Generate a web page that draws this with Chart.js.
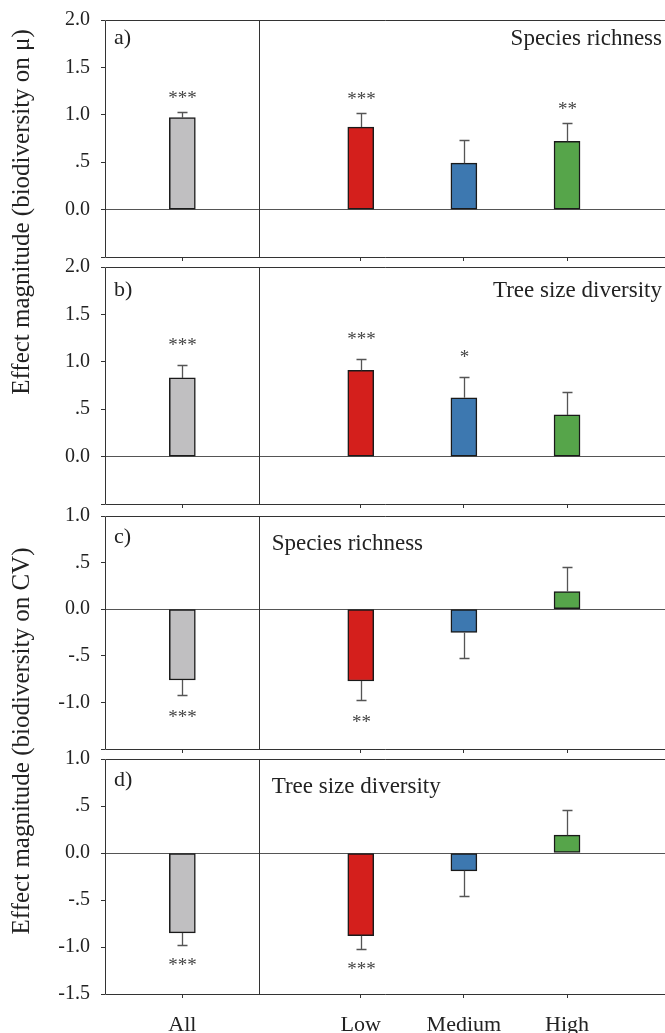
<!DOCTYPE html>
<html>
<head>
<meta charset="utf-8">
<script src="https://cdn.jsdelivr.net/npm/chart.js@4.4.0/dist/chart.umd.min.js"></script>
<style>
  html, body { margin: 0; padding: 0; background: #fff; overflow: hidden; }
  #wrap { position: relative; width: 665px; height: 1033px; }
  canvas { position: absolute; left: 0; }
  .ytitle {
    position: absolute;
    font-family: 'Liberation Serif', serif;
    font-size: 25px;
    color: #222;
    white-space: nowrap;
    transform: translate(-50%, -50%) rotate(-90deg);
  }
</style>
</head>
<body>
<div id="wrap">
  <canvas id="panelA"></canvas>
  <canvas id="panelB"></canvas>
  <canvas id="panelC"></canvas>
  <canvas id="panelD"></canvas>
  <div class="ytitle" style="left:21px; top:212px">Effect magnitude (biodiversity on μ)</div>
  <div class="ytitle" style="left:21px; top:741px">Effect magnitude (biodiversity on CV)</div>
</div>
<script>
// categories along the x axis (All | Low, Medium, High)
const groups = ['All', 'Low', 'Medium', 'High'];
const groupSlots = [0.75, 2.48, 3.48, 4.48];
const dividerSlot = 1.49;
const barColors = ['#c0bfc1', '#d41f1c', '#3d78b0', '#56a54a'];

// a) species richness on mu
const muRichness = [0.97, 0.87, 0.49, 0.72];
const muRichnessErr = [0.06, 0.15, 0.245, 0.19];
const muRichnessStars = ['***', '***', '', '**'];

// b) tree size diversity on mu
const muSize = [0.83, 0.91, 0.62, 0.44];
const muSizeErr = [0.14, 0.12, 0.22, 0.24];
const muSizeStars = ['***', '***', '*', ''];

// c) species richness on CV
const cvRichness = [-0.76, -0.77, -0.25, 0.19];
const cvRichnessErr = [0.16, 0.20, 0.27, 0.26];
const cvRichnessStars = ['***', '**', '', ''];

// d) tree size diversity on CV
const cvSize = [-0.85, -0.88, -0.19, 0.19];
const cvSizeErr = [0.13, 0.14, 0.27, 0.27];
const cvSizeStars = ['***', '***', '', ''];

// y tick labels, bottom to top
const muTickLabels = ['', '0.0', '.5', '1.0', '1.5', '2.0'];
const cvTickLabels = ['', '-1.0', '-.5', '0.0', '.5', '1.0'];
const cvTickLabelsLast = ['-1.5', '-1.0', '-.5', '0.0', '.5', '1.0'];

const panels = [
    { id: 'panelA', tag: 'a)', title: 'Species richness', titleRight: true,
      values: muRichness, errors: muRichnessErr, stars: muRichnessStars,
      yMin: -0.5, yMax: 2.0, tickLabels: muTickLabels,
      plotTop: 19, plotBottom: 257, tagDy: 24, titleDy: 25, starGap: 18 },
    { id: 'panelB', tag: 'b)', title: 'Tree size diversity', titleRight: true,
      values: muSize, errors: muSizeErr, stars: muSizeStars,
      yMin: -0.5, yMax: 2.0, tickLabels: muTickLabels,
      plotTop: 266, plotBottom: 504, tagDy: 29, titleDy: 30, starGap: 24 },
    { id: 'panelC', tag: 'c)', title: 'Species richness', titleRight: false,
      values: cvRichness, errors: cvRichnessErr, stars: cvRichnessStars,
      yMin: -1.5, yMax: 1.0, tickLabels: cvTickLabels,
      plotTop: 515, plotBottom: 749, tagDy: 27, titleDy: 34, starGap: 18 },
    { id: 'panelD', tag: 'd)', title: 'Tree size diversity', titleRight: false,
      values: cvSize, errors: cvSizeErr, stars: cvSizeStars,
      yMin: -1.5, yMax: 1.0, tickLabels: cvTickLabelsLast,
      plotTop: 758, plotBottom: 994, tagDy: 27, titleDy: 34, starGap: 16, showX: true }
];

const SERIF = '"Liberation Serif", "Times New Roman", serif';

// frame, divider, error bars, stars and panel texts
function makeDecor(p) {
    return {
        id: 'panelDecor',
        beforeDatasetsDraw(chart) {
            const { ctx, chartArea: a, scales: { x } } = chart;
            ctx.save();
            ctx.strokeStyle = '#333';
            ctx.lineWidth = 1;
            ctx.beginPath();
            ctx.moveTo(a.right, a.top + 0.5);
            ctx.lineTo(a.left + 0.5, a.top + 0.5);
            ctx.lineTo(a.left + 0.5, a.bottom + 0.5);
            ctx.lineTo(a.right, a.bottom + 0.5);
            const dx = Math.round(x.getPixelForValue(dividerSlot)) + 0.5;
            ctx.moveTo(dx, a.top);
            ctx.lineTo(dx, a.bottom);
            ctx.stroke();
            ctx.restore();
        },
        afterDatasetsDraw(chart) {
            const { ctx, chartArea: a, scales: { x, y } } = chart;
            ctx.save();
            p.values.forEach((v, i) => {
                const s = v < 0 ? -1 : 1;
                const end = v + s * p.errors[i];
                const px = Math.round(x.getPixelForValue(groupSlots[i])) + 0.5;
                const y0 = y.getPixelForValue(v);
                const y1 = Math.round(y.getPixelForValue(end)) + 0.5;
                ctx.strokeStyle = '#555';
                ctx.lineWidth = 1.3;
                ctx.beginPath();
                ctx.moveTo(px, y0);
                ctx.lineTo(px, y1);
                ctx.moveTo(px - 5, y1);
                ctx.lineTo(px + 5, y1);
                ctx.stroke();
                if (p.stars[i]) {
                    ctx.fillStyle = '#444';
                    ctx.font = '19px ' + SERIF;
                    ctx.textAlign = 'center';
                    ctx.textBaseline = 'alphabetic';
                    ctx.fillText(p.stars[i], px, y1 - s * p.starGap + 9.5);
                }
            });

            ctx.fillStyle = '#222';
            ctx.textBaseline = 'alphabetic';
            ctx.font = '22px ' + SERIF;
            ctx.textAlign = 'left';
            ctx.fillText(p.tag, a.left + 9, a.top + p.tagDy);

            ctx.font = '23px ' + SERIF;
            if (p.titleRight) {
                ctx.textAlign = 'right';
                ctx.fillText(p.title, a.right - 3, a.top + p.titleDy);
            } else {
                ctx.textAlign = 'left';
                ctx.fillText(p.title, x.getPixelForValue(dividerSlot) + 13, a.top + p.titleDy);
            }
            ctx.restore();
        }
    };
}

function makePanel(p) {
    const canvas = document.getElementById(p.id);
    // chart.js keeps ~22px above the plot for the top tick label
    const headroom = 22;
    const axisH = p.showX ? 39 : 24;
    const top = p.plotTop - headroom;
    canvas.width = 665;
    canvas.height = p.plotBottom - top + axisH;
    canvas.style.top = top + 'px';

    new Chart(canvas, {
        type: 'bar',
        data: {
            datasets: [{
                data: p.values.map((v, i) => ({ x: groupSlots[i], y: v })),
                backgroundColor: barColors,
                borderColor: '#1a1a1a',
                borderWidth: 1.5,
                borderSkipped: false,
                barThickness: 26
            }]
        },
        options: {
            responsive: false,
            animation: false,
            layout: { padding: 0 },
            plugins: {
                legend: { display: false },
                tooltip: { enabled: false }
            },
            scales: {
                x: {
                    type: 'linear',
                    min: 0,
                    max: 5.43,
                    offset: false,
                    afterBuildTicks: s => { s.ticks = groupSlots.map(v => ({ value: v })); },
                    afterFit: s => { s.height = axisH; },
                    border: { display: false },
                    grid: { offset: false, drawOnChartArea: false, drawTicks: true, tickLength: 4, tickColor: '#333', color: '#333' },
                    ticks: {
                        display: !!p.showX,
                        autoSkip: false,
                        maxRotation: 0,
                        padding: 14,
                        color: '#222',
                        font: { family: SERIF, size: 22 },
                        callback: (v, i) => groups[i]
                    }
                },
                y: {
                    min: p.yMin,
                    max: p.yMax,
                    afterFit: s => { s.width = 105; },
                    border: { display: false },
                    grid: {
                        drawTicks: true,
                        tickLength: 4,
                        tickColor: '#333',
                        lineWidth: 1,
                        color: c => (c.tick && c.tick.value === 0) ? '#555' : 'rgba(0,0,0,0)'
                    },
                    ticks: {
                        stepSize: 0.5,
                        padding: 11,
                        color: '#222',
                        font: { family: SERIF, size: 20 },
                        callback: (v, i) => p.tickLabels[i]
                    }
                }
            }
        },
        plugins: [makeDecor(p)]
    });
}

panels.forEach(makePanel);
</script>
</body>
</html>
